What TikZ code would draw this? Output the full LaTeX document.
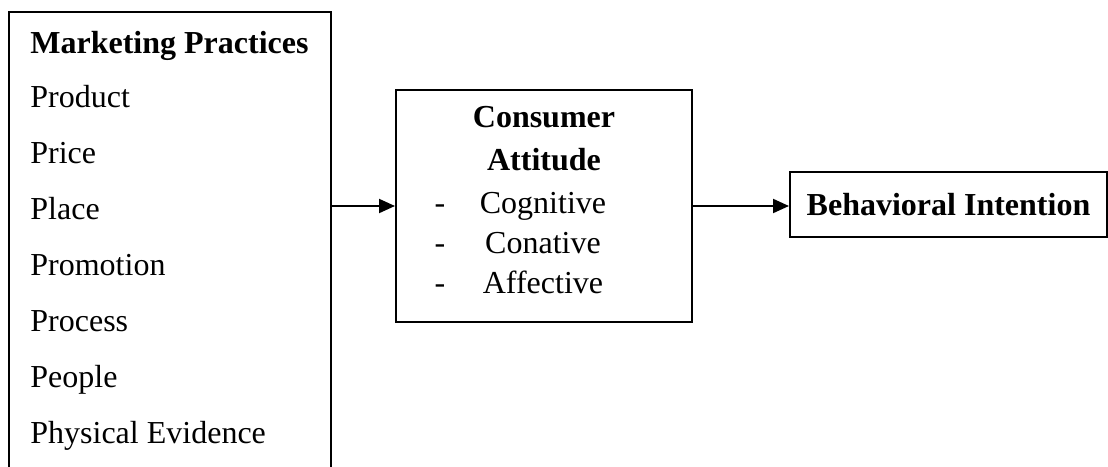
\documentclass[tikz,border=0pt]{standalone}
\usepackage{fontspec}
\setmainfont{Liberation Serif}
\usetikzlibrary{arrows.meta,positioning}
\tikzset{
  block/.style={draw, line width=1pt, inner sep=0pt},
  item/.style={anchor=base west, inner sep=0pt},
  citem/.style={anchor=base, inner sep=0pt},
  link/.style={line width=1pt, -{Triangle[length=8pt,width=7pt]}}
}
\begin{document}
\begin{tikzpicture}[x=0.5pt,y=-0.5pt,font=\fontsize{16}{19}\selectfont]
\path[use as bounding box, clip] (0,0) rectangle (1108,466);

% boxes
\node[block, minimum width=161pt, minimum height=244pt] (mp) at (170,256) {};
\node[block, minimum width=148pt, minimum height=116pt] (ca) at (544,206) {};
\node[block, minimum width=158.5pt, minimum height=32.5pt] (bi) at (948.5,204.5) {\textbf{Behavioral Intention}};

% marketing mix
\node[item] (mphead) at (30,53) {\textbf{Marketing Practices}};
\foreach \name/\txt [count=\i] in {product/Product, price/Price, place/Place, promotion/Promotion, process/Process, people/People, evidence/Physical Evidence}
  \node[item] (\name) at (30,{51+56*\i}) {\txt};

% consumer attitude
\node[citem] (cahead) at (544,127) {\textbf{Consumer}};
\node[citem] (cahead2) at (544,170) {\textbf{Attitude}};
\foreach \name/\txt/\y in {cog/Cognitive/213, con/Conative/253, aff/Affective/293}{
  \node[citem] (\name dash) at (440,\y) {-};
  \node[citem] (\name) at (543,\y) {\txt};
}

% links
\draw[link] (mp.east |- ca.west) -- (ca.west);
\draw[link] (ca.east) -- (ca.east -| bi.west);
\end{tikzpicture}
\end{document}
